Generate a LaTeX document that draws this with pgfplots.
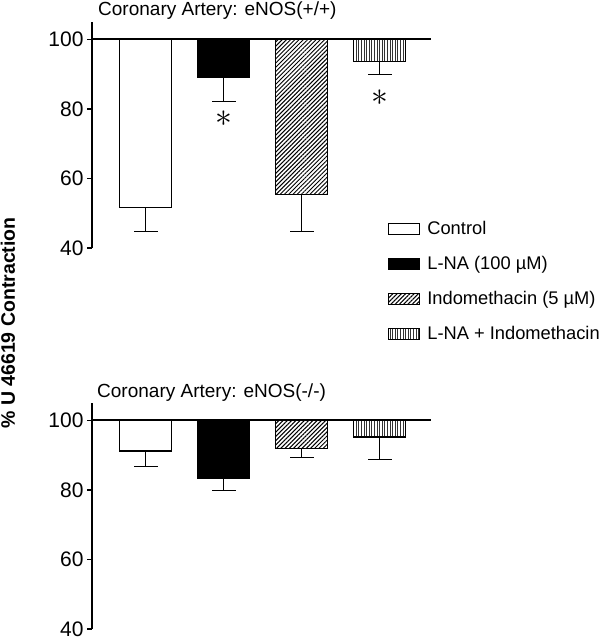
\documentclass[border=0pt]{standalone}
\usepackage{fontspec}
\setmainfont{Liberation Sans}
\usepackage{pgfplots}
\pgfplotsset{compat=1.18}
\usepackage{pgfplotstable}
\usetikzlibrary{patterns,patterns.meta}

% v = bar bottom (% contraction), e = lower end of error bar
\pgfplotstableread{
x v e
0 51.6 44.7
1 89.1 82.1
2 55.5 44.7
3 93.7 89.8
}\topdata
\pgfplotstableread{
x v e
0 91.2 86.8
1 83.2 79.8
2 91.8 89.3
3 95.2 88.8
}\botdata

\pgfplotsset{
  panel/.style={
    scale only axis, width=339pt, height=226pt,
    xmin=-0.686, xmax=3.66, ymin=-60, ymax=5,
    axis x line=none, axis y line*=left,
    axis line style={line width=1.2pt},
    ytick={-60,-40,-20,0}, yticklabels={40,60,80,100},
    tick align=outside, major tick length=5pt,
    tick style={line width=1.2pt, black},
    yticklabel style={font=\fontsize{21}{21}\selectfont},
    /pgf/number format/assume math mode=true,
    clip=false,
  },
  mybar/.style={ybar, bar width=52pt, bar shift=0pt, draw=black, line width=1.2pt},
  errb/.style={draw=none, mark=none, forget plot,
    error bars/.cd, y dir=minus, y explicit,
    error bar style={draw=black, solid, line width=1.2pt},
    error mark options={draw=black, solid, line width=1.2pt, mark size=12pt, rotate=90}},
  ctrl/.style={mybar, fill=white},
  lna/.style={mybar, fill=black},
  indo/.style={mybar, pattern={Lines[angle=45,distance=3pt,line width=1pt]}},
  both/.style={mybar, pattern={Lines[angle=90,distance=2.6pt,line width=0.9pt]}, pattern color=black!80},
}

\begin{document}
\begin{tikzpicture}
\useasboundingbox (0,0) rectangle (604pt,640pt);

% ---------- top panel ----------
\begin{axis}[panel, at={(92pt,392pt)}, anchor=south west,
  legend style={at={(axis description cs:0.873,0.124)}, anchor=north west,
    draw=none, fill=none, inner sep=0pt, row sep=17pt,
    font=\fontsize{18.3}{18.3}\selectfont,
    nodes={inner sep=0pt, text height=14pt, text depth=4pt},
    /tikz/every odd column/.append style={column sep=7pt}},
  legend cell align=left,
  legend image code/.code={\draw[#1] (0pt,-5pt) rectangle (31pt,6pt);},
]
\addplot[ctrl, restrict x to domain=-0.5:0.5] table[x=x, y expr=\thisrow{v}-100] {\topdata};
\addlegendentry{Control}
\addplot[lna, restrict x to domain=0.5:1.5] table[x=x, y expr=\thisrow{v}-100] {\topdata};
\addlegendentry{L-NA (100 µM)}
\addplot[indo, restrict x to domain=1.5:2.5] table[x=x, y expr=\thisrow{v}-100] {\topdata};
\addlegendentry{Indomethacin (5 µM)}
\addplot[both, restrict x to domain=2.5:3.5] table[x=x, y expr=\thisrow{v}-100] {\topdata};
\addlegendentry{L-NA + Indomethacin}
\addplot[errb] table[x=x, y expr=\thisrow{v}-100, y error expr=\thisrow{v}-\thisrow{e}] {\topdata};
\draw[line width=2pt] (axis cs:-0.686,0) -- (axis cs:3.66,0);
\node[font=\Huge, scale=1.35] at (axis cs:1,-22.8) {$\ast$};
\node[font=\Huge, scale=1.35] at (axis cs:3.01,-16.8) {$\ast$};
\end{axis}

% ---------- bottom panel ----------
\begin{axis}[panel, at={(92pt,11pt)}, anchor=south west]
\addplot[ctrl, restrict x to domain=-0.5:0.5] table[x=x, y expr=\thisrow{v}-100] {\botdata};
\addplot[lna, restrict x to domain=0.5:1.5] table[x=x, y expr=\thisrow{v}-100] {\botdata};
\addplot[indo, restrict x to domain=1.5:2.5] table[x=x, y expr=\thisrow{v}-100] {\botdata};
\addplot[both, restrict x to domain=2.5:3.5] table[x=x, y expr=\thisrow{v}-100] {\botdata};
\addplot[errb] table[x=x, y expr=\thisrow{v}-100, y error expr=\thisrow{v}-\thisrow{e}] {\botdata};
\draw[line width=2pt] (axis cs:-0.686,0) -- (axis cs:3.66,0);
\end{axis}

\node[anchor=base west, inner sep=0pt, font=\fontsize{19}{19}\selectfont] at (98pt,624pt) {Coronary Artery: eNOS(+/+)};
\node[anchor=base west, inner sep=0pt, font=\fontsize{19}{19}\selectfont] at (97pt,242pt) {Coronary Artery: eNOS(-/-)};
\node[rotate=90, inner sep=0pt, font=\bfseries\fontsize{19.5}{19.5}\selectfont] at (8pt,317pt) {\% U 46619 Contraction};
\end{tikzpicture}
\end{document}
